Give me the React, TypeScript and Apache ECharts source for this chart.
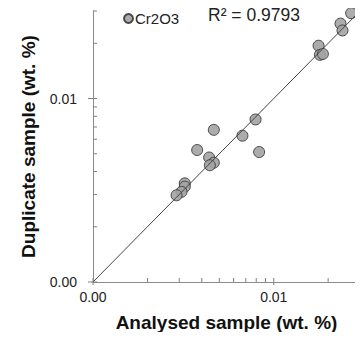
import React, { useEffect, useRef } from "react";
import * as echarts from "echarts";

const analysed = [0.0268, 0.0234, 0.024, 0.0177, 0.018, 0.0187, 0.00793, 0.00466, 0.00671, 0.00377, 0.0083, 0.00439, 0.00466, 0.00443, 0.00322, 0.00322, 0.00309, 0.0029];
const duplicate = [0.0292, 0.0256, 0.0235, 0.0194, 0.0173, 0.0175, 0.00769, 0.00675, 0.00627, 0.00524, 0.00511, 0.00477, 0.00447, 0.00433, 0.00345, 0.00331, 0.0031, 0.00297];
const oneToOne = [0.001, 0.03];
const tickValues = [0.001, 0.002, 0.003, 0.004, 0.005, 0.006, 0.007, 0.008, 0.009, 0.01, 0.02, 0.03];
const majorTicks = [0.001, 0.01];
const seriesName = "Cr2O3";
const r2Text = "R² = 0.9793";
const axisMin = 0.001;
const axisMax = 0.03;

export default function App() {
  const ref = useRef<HTMLDivElement>(null);
  useEffect(() => {
    if (!ref.current) return;
    const chart = echarts.init(ref.current, null, { renderer: "svg" });
    const axisLineColor = "#8c8c8c";
    const font = "Liberation Sans, Arial, sans-serif";
    const baseAxis = () => ({
      type: "log",
      logBase: 10,
      min: axisMin,
      max: axisMax,
      splitLine: { show: false },
      axisTick: { show: false },
      axisLine: { show: true, lineStyle: { color: axisLineColor, width: 1 } },
    });
    const points = analysed.map((x, i) => [x, duplicate[i]]);
    const textGraphics: any[] = [
      {
        type: "text",
        left: 208,
        top: 6,
        style: { text: r2Text, fontSize: 17.5, fill: "#222", fontFamily: font },
      },
    ];
    chart.setOption({
      animation: false,
      grid: { left: 93, right: 3, top: 11, bottom: 58 },
      legend: {
        show: true,
        data: [{ name: seriesName, icon: "circle" }],
        left: 118,
        top: 6,
        itemWidth: 9,
        itemHeight: 9,
        itemGap: 4,
        textStyle: { fontSize: 15, color: "#222", fontFamily: font, padding: [0, 0, 0, -3] },
      },
      graphic: textGraphics,
      xAxis: {
        ...baseAxis(),
        name: "Analysed sample (wt. %)",
        nameLocation: "middle",
        nameGap: 31,
        nameTextStyle: { fontSize: 19, fontWeight: "bold", color: "#111", fontFamily: font },
        axisLabel: {
          show: true,
          customValues: majorTicks,
          margin: 8,
          fontSize: 14,
          color: "#222",
          fontFamily: font,
          formatter: (v: number) => v.toFixed(2),
        },
      },
      yAxis: {
        ...baseAxis(),
        name: "Duplicate sample (wt. %)",
        nameLocation: "middle",
        nameGap: 55,
        nameTextStyle: { fontSize: 19, fontWeight: "bold", color: "#111", fontFamily: font },
        axisLabel: {
          show: true,
          customValues: majorTicks,
          margin: 16,
          fontSize: 14,
          color: "#222",
          fontFamily: font,
          formatter: (v: number) => v.toFixed(2),
        },
      },
      series: [
        {
          name: seriesName,
          type: "scatter",
          data: points,
          symbol: "circle",
          symbolSize: 11,
          itemStyle: { color: "#a3a3a3", borderColor: "#3a3a3a", borderWidth: 1, opacity: 0.9 },
          z: 2,
        },
        {
          name: "1:1",
          type: "line",
          data: oneToOne.map((v) => [v, v]),
          symbol: "none",
          lineStyle: { color: "#444", width: 1 },
          z: 3,
          silent: true,
        },
      ],
    });

    // Tick marks placed through the chart's own log scales
    const tickLines: any[] = [];
    tickValues.forEach((v) => {
      const major = majorTicks.indexOf(v) >= 0;
      const px = chart.convertToPixel({ gridIndex: 0 }, [v, axisMin]) as number[];
      const py = chart.convertToPixel({ gridIndex: 0 }, [axisMin, v]) as number[];
      if (px && isFinite(px[0])) {
        tickLines.push({
          type: "line",
          silent: true,
          z: 100,
          shape: { x1: px[0], y1: px[1] - 4, x2: px[0], y2: px[1] + (major ? 3 : 0) },
          style: { stroke: "#808080", lineWidth: 1 },
        });
      }
      if (py && isFinite(py[1])) {
        tickLines.push({
          type: "line",
          silent: true,
          z: 100,
          shape: { x1: py[0] - (major ? 5 : 0), y1: py[1], x2: py[0] + 4, y2: py[1] },
          style: { stroke: "#808080", lineWidth: 1 },
        });
      }
    });
    chart.setOption({ graphic: textGraphics.concat(tickLines) });
    return () => chart.dispose();
  }, []);
  return <div ref={ref} style={{ width: 363, height: 340, margin: -8 }} />;
}
